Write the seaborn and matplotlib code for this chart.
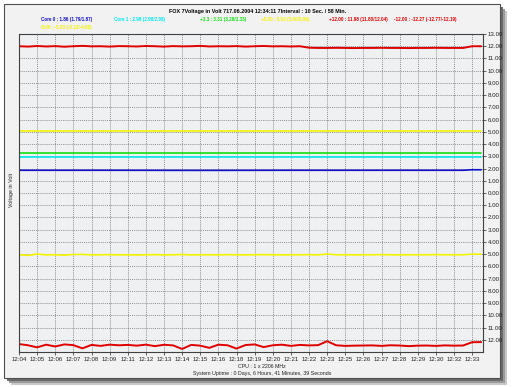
import numpy as np
import pandas as pd
import matplotlib
matplotlib.use("Agg")
import matplotlib.pyplot as plt
from matplotlib.patches import Rectangle
import seaborn as sns

# tick labels on the time axis (one every 18 px in the original)
minutos = ["12:04", "12:05", "12:06", "12:07", "12:08", "12:09", "12:11", "12:12",
           "12:13", "12:14", "12:15", "12:16", "12:18", "12:19", "12:20", "12:21",
           "12:22", "12:23", "12:25", "12:26", "12:27", "12:28", "12:29", "12:30",
           "12:32", "12:33"]

# samples of the noisy series, every half tick
t_amostras = np.arange(52) * 0.5

mais_12 = [12.00, 11.97, 12.02, 11.98, 12.01, 11.96, 12.00, 12.03, 11.99, 12.00,
           11.97, 12.01, 12.00, 11.98, 12.02, 12.00, 11.97, 12.01, 11.99, 12.00,
           12.03, 11.98, 12.00, 11.99, 12.01, 11.97, 12.00, 12.02, 11.99, 12.00,
           11.98, 12.00, 11.88, 11.86, 11.86, 11.87, 11.86, 11.85, 11.86, 11.86,
           11.87, 11.86, 11.86, 11.85, 11.86, 11.86, 11.87, 11.86, 11.86, 11.86,
           12.00, 12.00]

menos_12 = [-12.35, -12.45, -12.62, -12.40, -12.55, -12.38, -12.44, -12.70, -12.42, -12.50,
            -12.40, -12.45, -12.42, -12.48, -12.40, -12.52, -12.41, -12.46, -12.75, -12.42,
            -12.48, -12.66, -12.40, -12.45, -12.72, -12.43, -12.38, -12.60, -12.45, -12.40,
            -12.50, -12.42, -12.46, -12.44, -12.12, -12.45, -12.50, -12.48, -12.47, -12.46,
            -12.50, -12.45, -12.47, -12.52, -12.48, -12.47, -12.50, -12.46, -12.48, -12.47,
            -12.20, -12.19]

menos_5 = [-5.05, -5.10, -4.99, -5.06, -5.05, -5.08, -5.03, -5.02, -5.06, -5.05,
           -5.04, -5.06, -5.05, -5.07, -5.05, -5.04, -5.06, -5.05, -5.03, -5.06,
           -5.05, -5.05, -5.06, -5.04, -5.05, -5.06, -5.05, -5.04, -5.05, -5.06,
           -5.05, -5.05, -5.04, -5.06, -4.99, -5.05, -5.05, -5.06, -5.05, -5.05,
           -5.04, -5.05, -5.06, -5.05, -5.05, -5.05, -5.04, -5.05, -5.05, -5.05,
           -5.00, -5.00]

# the flat series need only a few points
t_poucos = [0.0, 5.0, 10.0, 15.0, 20.0, 24.5, 25.0, 25.5]
mais_5 = [5.03, 5.03, 5.03, 5.03, 5.03, 5.03, 5.03, 5.03]
mais_3v3 = [3.31, 3.31, 3.31, 3.31, 3.31, 3.31, 3.31, 3.31]
core_1 = [2.98, 2.98, 2.98, 2.98, 2.98, 2.98, 2.98, 2.98]
core_0 = [1.86, 1.86, 1.85, 1.86, 1.86, 1.86, 1.90, 1.90]

legendas = ["Core 0 : 1.86 (1.79/1.87)", "Core 1 : 2.98 (2.98/2.98)",
            "+3.3 : 3.31 (3.28/3.33)", "+5.00 : 5.03 (5.00/5.06)",
            "+12.00 : 11.98 (11.80/12.04)", "-12.00 : -12.27 (-12.77/-12.19)",
            "-5.00 : -5.03 (-5.13/-4.98)"]

AZUL, CIANO, VERDE, AMARELO, VERMELHO = "#1010c8", "#00e8f0", "#10e010", "#f4f400", "#e00000"

series = [
    (t_poucos, core_0, AZUL, 1.2),
    (t_poucos, core_1, CIANO, 1.2),
    (t_poucos, mais_3v3, VERDE, 1.2),
    (t_poucos, mais_5, AMARELO, 1.2),
    (t_amostras, mais_12, VERMELHO, 1.4),
    (t_amostras, menos_12, VERMELHO, 1.4),
    (t_amostras, menos_5, AMARELO, 1.2),
]

sns.set_theme(style="white")
plt.rcParams["font.family"] = ["Liberation Sans", "DejaVu Sans"]

W, H = 512, 387
fig = plt.figure(figsize=(W / 100, H / 100), dpi=100)
fig.patch.set_facecolor("white")

def fx(px):
    return px / W

def fy(py):
    return 1 - py / H

# drop shadow + panel
for off, cor in [(7, "#c8c8c8"), (5, "#9a9a9a"), (3, "#6a6a6a")]:
    fig.patches.append(Rectangle((fx(4 + off), fy(378 + off)), fx(496), 374 / H,
                                 transform=fig.transFigure, facecolor=cor,
                                 edgecolor="none", zorder=-3))
fig.patches.append(Rectangle((fx(4), fy(378)), fx(496), 374 / H,
                             transform=fig.transFigure, facecolor="#f2f2f2",
                             edgecolor="#505050", lw=0.8, zorder=-2))

ax = fig.add_axes([fx(19), fy(352), fx(483 - 19), (352 - 34) / H])
ax.set_zorder(5)
ax.set_facecolor("#eef0f2")

for xs, ys, cor, lw in series:
    sns.lineplot(x=xs, y=ys, color=cor, lw=lw, ax=ax)

ax.set_xlim(0, 25.6)
ax.set_ylim(-13, 13)
ax.set_xticks(range(len(minutos)))
ax.set_xticklabels(minutos)
yt = list(range(-12, 14))
ax.set_yticks(yt)
ax.set_yticklabels([f"{abs(v):.2f}" for v in yt])
ax.yaxis.tick_right()
ax.tick_params(axis="both", labelsize=4.4, colors="#222222", length=2, width=0.5, pad=1.5,
               direction="out")
ax.tick_params(axis="x", bottom=True)
ax.tick_params(axis="y", right=True)
ax.grid(True, ls=(0, (1.5, 1.5)), color="#707070", lw=0.5)
ax.set_axisbelow(True)
for s in ax.spines.values():
    s.set_color("#404040")
    s.set_linewidth(0.8)
ax.set_ylabel("")
fig.text(fx(12), fy(190), "Voltage in Volt", rotation=90, fontsize=3.8,
         ha="center", va="center", color="#222222")

# header
fig.text(fx(258), fy(11), "FOX 7Voltage in Volt 717.06.2004 12:34:11 7Interval : 10 Sec. / 58 Min.",
         fontsize=3.9, fontweight="bold", ha="center", va="center", color="black")
pos_leg = [(67, 20), (140, 20), (223, 20), (285, 20), (358, 20), (425, 20), (66, 28)]
cores_leg = [AZUL, CIANO, VERDE, AMARELO, VERMELHO, VERMELHO, AMARELO]
for txt, (px, py), cor in zip(legendas, pos_leg, cores_leg):
    fig.text(fx(px), fy(py), txt, fontsize=3.3, fontweight="bold", ha="center",
             va="center", color=cor)

# footer
fig.text(fx(262), fy(367), "CPU : 1 x 2206 MHz", fontsize=3.8, ha="center", va="center",
         color="#222222")
fig.text(fx(262), fy(374), "System Uptime : 0 Days, 6 Hours, 41 Minutes, 39 Seconds",
         fontsize=3.8, ha="center", va="center", color="#222222")

fig.savefig("out.png", dpi=100)
